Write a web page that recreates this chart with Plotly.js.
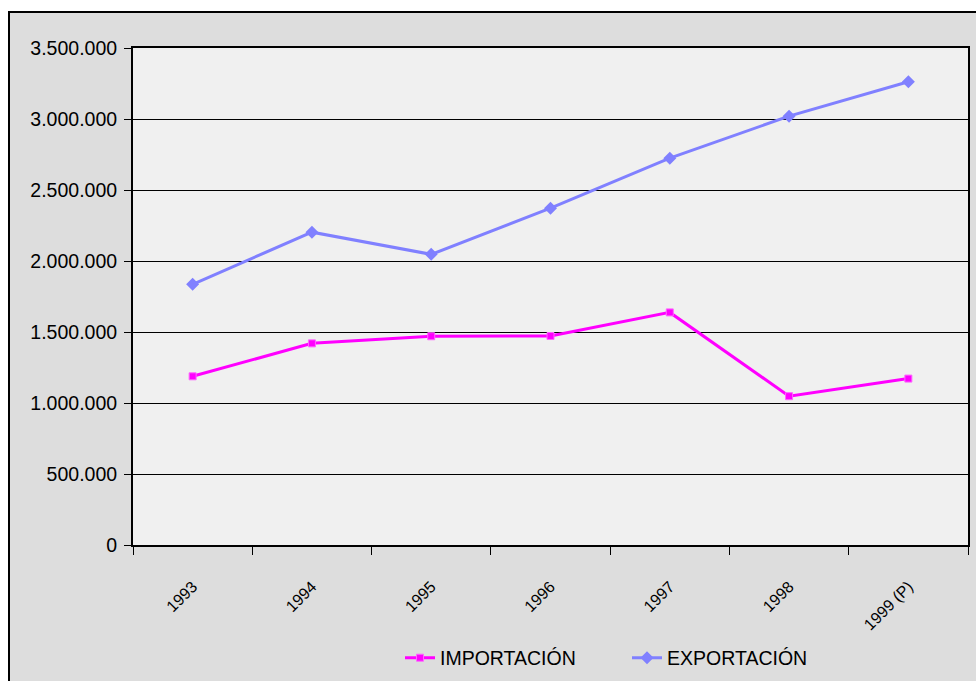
<!DOCTYPE html>
<html>
<head>
<meta charset="utf-8">
<script src="https://cdn.plot.ly/plotly-3.0.1.min.js"></script>
<style>html,body{margin:0;padding:0;background:#fff;}#chart{width:976px;height:681px;}</style>
</head>
<body>
<div id="chart"></div>
<script>
const years = ["1993", "1994", "1995", "1996", "1997", "1998", "1999 (P)"];
const importacion = [1188000, 1420000, 1470000, 1472000, 1638000, 1048000, 1172000];
const exportacion = [1836000, 2203000, 2047000, 2372000, 2724000, 3020000, 3262000];
const yTicks = [0, 500000, 1000000, 1500000, 2000000, 2500000, 3000000, 3500000];

const W = 976, H = 681;
const L = 133, R = 8, T = 48, B = 136;
const pw = W - L - R, ph = H - T - B;
const px = v => (v - L) / pw;
const py = v => (H - B - v) / ph;

const traces = [
  {
    x: years, y: importacion, name: "IMPORTACIÓN", type: "scatter", mode: "lines+markers",
    line: {color: "#FF00FF", width: 3},
    marker: {symbol: "square", size: 7, color: "#FF00FF", line: {color: "#FF66FF", width: 1}}
  },
  {
    x: years, y: exportacion, name: "EXPORTACIÓN", type: "scatter", mode: "lines+markers",
    line: {color: "#8080FF", width: 3},
    marker: {symbol: "diamond", size: 10, color: "#8080FF"}
  }
];

const layout = {
  width: W, height: H,
  margin: {l: L, r: R, t: T, b: B, pad: 0, autoexpand: false},
  paper_bgcolor: "#DDDDDD",
  plot_bgcolor: "#F0F0F0",
  separators: ",.",
  font: {family: "Liberation Sans, Arial, sans-serif", color: "#000"},
  showlegend: true,
  legend: {
    orientation: "h", xref: "container", yref: "container",
    x: 400 / W, xanchor: "left", y: (H - 658) / H, yanchor: "middle",
    font: {size: 19.5, family: "Liberation Sans, Arial, sans-serif"},
    bgcolor: "rgba(0,0,0,0)", entrywidth: 182, traceorder: "normal"
  },
  xaxis: {
    type: "category", range: [-0.5, years.length - 0.5], autorange: false,
    tickson: "boundaries", ticks: "outside", ticklen: 8, tickwidth: 1, tickcolor: "#000",
    showline: true, linecolor: "#000", linewidth: 2, mirror: true, showgrid: false, zeroline: false,
    tickangle: -45, ticklabelstandoff: 24,
    tickfont: {size: 16, family: "Liberation Sans, Arial, sans-serif"},
    fixedrange: true
  },
  yaxis: {
    range: [0, 3500000], tickvals: yTicks, tickformat: ",d",
    ticks: "outside", ticklen: 7, tickwidth: 1, tickcolor: "#000",
    showline: true, linecolor: "#000", linewidth: 2, mirror: true,
    showgrid: true, gridcolor: "#000", gridwidth: 1, zeroline: false,
    ticklabelstandoff: 3,
    tickfont: {size: 19.5}, fixedrange: true
  },
  shapes: [
    {type: "rect", xref: "paper", yref: "paper", x0: px(-5), x1: px(9), y0: py(700), y1: py(-5), fillcolor: "#FFFFFF", line: {width: 0}, layer: "below"},
    {type: "rect", xref: "paper", yref: "paper", x0: px(-5), x1: px(990), y0: py(12), y1: py(-5), fillcolor: "#FFFFFF", line: {width: 0}, layer: "below"},
    {type: "rect", xref: "paper", yref: "paper", x0: px(9), x1: px(990), y0: py(700), y1: py(12), line: {color: "#000", width: 2}, layer: "above"}
  ]
};

Plotly.newPlot("chart", traces, layout, {displayModeBar: false, staticPlot: true});
</script>
</body>
</html>
